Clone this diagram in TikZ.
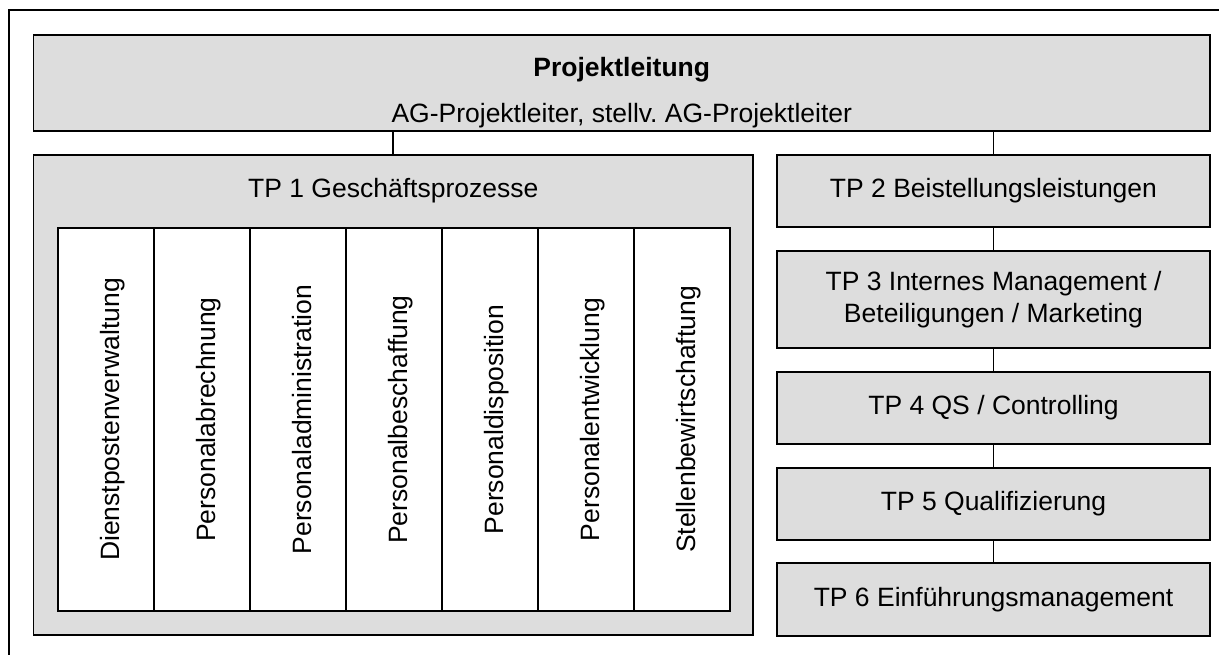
\documentclass[tikz,border=0pt]{standalone}
\usepackage{fontspec}
\setmainfont{Liberation Sans}
\frenchspacing
\definecolor{boxgray}{RGB}{221,221,221}
\tikzset{
  lbl/.style={inner sep=0pt, font=\fontsize{26.5}{32}\selectfont},
  grbox/.style={draw=black, line width=1.6pt, fill=boxgray, rectangle, inner sep=0pt},
  colbox/.style={draw=black, line width=1.6pt, fill=white, rectangle, inner sep=0pt,
                 minimum width=96pt, minimum height=383pt},
  vlbl/.style={lbl, rotate=90, anchor=base},
  link/.style={draw=black, line width=1.6pt}
}
\begin{document}
\begin{tikzpicture}[x=1pt, y=-1pt]
\path[use as bounding box, clip] (0,0) rectangle (1219,655);
\fill[white] (0,0) rectangle (1219,655);
% outer frame, open to the right and bottom
\draw[line width=2pt] (8.5,680) -- (8.5,10) -- (1240,10);

% top level
\node[grbox, minimum width=1176.5pt, minimum height=96pt] (pl) at (621.75,83) {};
\node[lbl, anchor=base, font=\fontsize{26.5}{32}\selectfont\bfseries] (pltitle) at (621.75,77) {Projektleitung};
\node[lbl, anchor=base] (plsub) at (621.75,123) {AG-Projektleiter, stellv. AG-Projektleiter};

% TP 1 with its process columns
\node[grbox, minimum width=719.5pt, minimum height=480pt] (tp1) at (393.25,395) {};
\node[lbl] (tp1title) at (393.25,191) {TP 1 Geschäftsprozesse};
\foreach \i/\txt in {1/Dienstpostenverwaltung,2/Personalabrechnung,3/Personaladministration,
                     4/Personalbeschaffung,5/Personaldisposition,6/Personalentwicklung,
                     7/Stellenbewirtschaftung}{
  \node[colbox] (c\i) at ({58+96*(\i-1)+48},419.5) {};
  \node[vlbl] (t\i) at ([xshift=13.5pt]c\i.center) {\txt};
}

% right column of sub-projects
\node[grbox, minimum width=433pt, minimum height=72pt] (tp2) at (993.5,191) {};
\node[lbl] at (tp2.center) {TP 2 Beistellungsleistungen};
\node[grbox, minimum width=433pt, minimum height=97pt] (tp3) at (993.5,299.5) {};
\node[lbl, align=center] at (tp3.center) {TP 3 Internes Management /\\Beteiligungen / Marketing};
\node[grbox, minimum width=433pt, minimum height=72pt] (tp4) at (993.5,408) {};
\node[lbl] at (tp4.center) {TP 4 QS / Controlling};
\node[grbox, minimum width=433pt, minimum height=72pt] (tp5) at (993.5,503.75) {};
\node[lbl] at (tp5.center) {TP 5 Qualifizierung};
\node[grbox, minimum width=433pt, minimum height=73pt] (tp6) at (993.5,599.5) {};
\node[lbl] at (tp6.center) {TP 6 Einführungsmanagement};

% connectors
\draw[link] (tp1.north) -- (tp1.north |- pl.south);
\draw[link] (tp2.north) -- (tp2.north |- pl.south);
\draw[link] (tp2.south) -- (tp3.north);
\draw[link] (tp3.south) -- (tp4.north);
\draw[link] (tp4.south) -- (tp5.north);
\draw[link] (tp5.south) -- (tp6.north);
\end{tikzpicture}
\end{document}
